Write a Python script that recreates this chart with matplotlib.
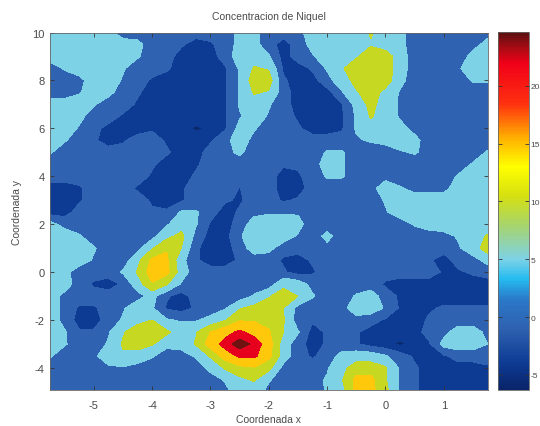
import numpy as np
import matplotlib
matplotlib.use('Agg')
import matplotlib.pyplot as plt
from matplotlib.cm import ScalarMappable
from matplotlib.colors import LinearSegmentedColormap, Normalize

plt.rcParams['font.family'] = ['Liberation Sans', 'DejaVu Sans']
plt.rcParams['axes.unicode_minus'] = False

##################
## data

x_nodes = [-5.75, -5.5, -5.25, -5, -4.75, -4.5, -4.25, -4, -3.75, -3.5, -3.25, -3, -2.75, -2.5, -2.25, -2,
           -1.75, -1.5, -1.25, -1, -0.75, -0.5, -0.25, 0, 0.25, 0.5, 0.75, 1, 1.25, 1.5, 1.75]
y_nodes = [10, 9.5, 9, 8.5, 8, 7.5, 7, 6.5, 6, 5.5, 5, 4.5, 4, 3.5, 3, 2.5, 2, 1.5, 1, 0.5, 0,
           -0.5, -1, -1.5, -2, -2.5, -3, -3.5, -4, -4.5, -5]

concentration = [
    [5, 5, 5, 5, 4, 0, 0, 0, 0, 0, 0, 0, 0, 4, 4, 0, 0, 1, 5, 5, 5, 5, 8, 5, 4, 0, 0, 0, 0, 0, 1],
    [5, 5, 5, 5, 5, 5, 4, 0, 0, -1, -3, -2, 0, 4, 4, 0, -3, 0, 4, 5, 5, 5, 7, 5, 4, 0, 0, 0, 0, 1, 4],
    [5, 5, 5, 5, 5, 5, 3, 0, 0, -3, -3, -3, 0, 5, 5, 3, -3, 0, 2, 5, 5, 7, 10, 10, 5, 0, 0, 0, 0, 4, 5],
    [0, 3, 5, 5, 5, 3, 0, 0, -1, -3, -3, -3, -2, 3, 8, 7, -2, -3, -1, 3, 7, 10, 10, 10, 5, 0, 0, 0, 2, 5, 5],
    [0, 0, 1, 5, 5, 2, 0, -2, -3, -3, -3, -3, -2, 3, 10, 10, -1, -3, -3, 1, 5, 9, 10, 10, 4, 0, 0, 0, 0, 3, 3],
    [0, 0, 2, 5, 4, 0, -1, -3, -3, -3, -3, -3, -2, 3, 8, 7, 0, -3, -4, -3, 2, 7, 10, 6, 2, 0, 0, 0, 0, 0, 0],
    [5, 5, 5, 3, 0, 0, -2, -3, -3, -3, -3, -3, -2, 3, 5, 3, 0, -3, -4, -4, -2, 4, 9, 5, 2, 0, 0, 0, 0, 0, 0],
    [5, 5, 4, 0, 0, -2, -3, -3, -3, -3, -3, -3, -2, 2, 5, 2, 0, -2, -4, -4, -2, 3, 8, 5, 2, 0, 0, 0, 0, 0, 0],
    [5, 5, 2, -0.5, -2.5, -3, -3, -2, -3, -3, -5, -4, -2, 4, 3, 0, 0, -1, -3, -3, -2, 3, 5, 5, 4, 1, 0, 0, 0, 0, 0],
    [5, 3, 0, -1, -3, -2, 0, 0, -2, -3, -3, -2, 1, 5, 1, 0, 0, 0, 0, 0, 0, 2, 3, 4, 5, 4, 0, 0, 0, 0, 0],
    [3, 0, 0, 0, 0, 0, 0, 0, -1, -3, -3, 0, 1, 3.5, 0, 0, 0, 0, 0, 3, 3, 0, 0, 0, 2, 3, 1, 0, 0, 0, 3],
    [0, 0, 0, 0, 0, 0, 0, -1, -3, -3, -2, 0, 0, 0, 0, 0, -1, -1, 0, 5, 3, 0, 0, 0, 0, 0, 2, 1, 0, 3, 5],
    [0, 0, 0, 0, 0, 0, 0, -2, -3, -3, -1, 0, 0, 0, 0, 0, -3, -2, 0, 3, 3, 0, 1, 1, 0, 0, 0, 0, 3, 5, 5],
    [-3, -3, -2, 0, 0, 0, -2, -3, -3, -2, 0, 0, 0, -1.6, 0, 0, -3, -3, 0, 0, 0, 0, 1, 5, 3, 1, 1, 1, 5, 5, 5],
    [-3, -3, -2, 0, 0, 0, 0, -2, -3, -2, 0, 0, -1, -2, 0, 0, -2, -1, 0, 0, 0, 0, 0, 3, 5, 5, 5, 5, 5, 5, 5],
    [-3, -3, 0, 0, 0, 0, 0, -1, -1, 3, 3, 0, -3, -1, 1, 2, 2, 2, 0, 0, 0, 0, 0, 2, 5, 5, 5, 5, 5, 5, 5],
    [4, 1, 0, 0, 0, 0, 0, 0, 2, 5, 3, -2, -3, 0, 5, 5, 5, 4, 0, 0, 0, 0, 0, 0, 0, 3, 5, 5, 5, 5, 5],
    [5, 5, 3, 0, 0, 0, 0, 1, 6, 9, 1, -3, -3, 2, 5, 5, 5, 2, 0, 4, 0, 0, 0, 0, 0, 0, 0, 1, 3, 5, 8],
    [5, 5, 5, 3, 0, 0, 1, 7, 12, 7.5, -1, -3, -3, 0, 5, 4, 0, 0, 0, 1, 0, 0, 0, 0, 0, 0, 0, 0, 2, 5, 10],
    [5, 5, 5, 2, 0, 0, 6, 13.5, 13.5, 4, -1, -3, -3, -1, 0, 0, -2, -3, -1, 0, 0, 0, 0, 0, 0, 0, -1, -3, 0, 1, 4],
    [5, 4, 0, 0, 0, 3, 8, 15, 14, 5, 0, 0, 0, 0, 0, 0, -1, -3, -2, 0, 0, 0, 0, 0, 0, 0, 0, -2, -2, -1, 0],
    [5, 5, 0, -2, -3, -1, 5, 12, 8, 2, 0, 0, 0, 0, 0, 0, 6, 5, 1, 0, 0, 0, 0, -2, -3, -3, -3, -3, -3, -3, -3],
    [5, 1, 0, 0, 0, 0, 1, 4, -1, -3, 0, 0, 0, 0, 3, 7, 10, 7.5, 3, 0, 0, 3, 5, 0, -2, -3, -3, -3, -3, -3, -3],
    [5, 1, -2, -2, 0, 2, 5, 3, -2, -3, -1, 0, 2, 7, 9, 10, 7.5, 1, 0, 0, 1, 5, 5, 2, -2, -3, -2, -1, -1, -1, -1],
    [5, 1, -3, -3, 0, 3, 6, 7.5, 3, 2, 2, 4, 7, 12, 12, 11, 8, 0, -1, 0, 0, 1, 0, -2, -3, -3, -1, 0, 0, 0, 0],
    [5, 3, -1, -1, 2, 7, 10, 10, 8.5, 5, 7, 12.5, 16, 19, 16, 13, 7.5, 3, -3, -1, 0, -1, -3, -3, -3, -3, 0, 1, 5, 5, 1],
    [5, 3, 0, 0, 3, 8, 10, 8, 4, 4, 8, 15, 20, 24, 21, 15, 5, 0, -3, -1, 0, -1, -3, -4, -5, -4, -2, 4, 5, 5, 2.5],
    [3, 0, 0, 2, 4, 7, 5, 3, 0, 1, 3, 8, 15, 19, 19, 14, 5, 0, -2, 0, 4, 5, 5, 3, 0, -2, -3, -2, 0, 0, 0],
    [0, 0, 0, 1, 2, 2, 1, 0, 0, 0, 0, 4, 8, 11, 12, 9, 1, 0, 0, 2, 6, 10, 10, 8, 2, -1, -3, -3, -3, -3, -2],
    [0, 0, 0, 0, 0, 0, 0, 0, 0, 0, 0, 0, 3, 6, 8, 3, 0, 0, 1, 3, 7, 14, 14, 8, 2, -1, -3, -3, -3, -3, -3],
    [0, 0, 0, 0, 0, 0, 0, 0, 0, 0, 0, 0, 1, 5, 5, 1, 0, 0, 0, 3, 5, 14, 14, 9, 2, -1, -3, -3, -3, -3, -3],
]

levels = [-6.3, -4.5, -1.5, 2.5, 7.5, 12.5, 18, 22, 24.65]
band_colors = ['#0b2a6c', '#0d3b94', '#2f62b0', '#7dd2e6', '#c6d822', '#ffc80a', '#e6001e', '#6e1212']

bar_values = [-6.3, -4, -1, 1.5, 3.3, 5, 8, 10.5, 13, 15.5, 18.5, 22, 23.5, 24.65]
bar_colors = ['#0a2468', '#0d3b94', '#2f62b0', '#2a78c8', '#25bcf0', '#7dd2e6', '#a8d46a', '#d6e010',
              '#ffff00', '#ffb000', '#ff3010', '#f00018', '#a00c14', '#5a1010']
bar_ticks = [-5, 0, 5, 10, 15, 20]

x_ticks = [-5, -4, -3, -2, -1, 0, 1]
y_ticks = [-4, -2, 0, 2, 4, 6, 8, 10]

#####################
## figure

width, height = 540, 427
text_color = '#4a4a4a'
fig = plt.figure(figsize=(width / 100, height / 100), dpi=100)
ax = fig.add_axes([50 / width, 1 - 391 / height, 437.5 / width, 357.5 / height])
ax.contourf(x_nodes, y_nodes, np.array(concentration), levels=levels, colors=band_colors)
ax.set_xlim(-5.75, 1.75)
ax.set_ylim(-4.92, 10)
ax.set_xticks(x_ticks)
ax.set_yticks(y_ticks)
ax.tick_params(direction='in', top=True, right=True, length=3, width=0.6, color='#333333',
               labelsize=8, labelcolor=text_color)
ax.tick_params(axis='x', pad=7)
ax.tick_params(axis='y', pad=4)
ax.set_xlabel('Coordenada x', fontsize=7.5, color=text_color, labelpad=3)
ax.set_ylabel('Coordenada y', fontsize=7.5, color=text_color, labelpad=7)
ax.set_title('Concentracion de Niquel', fontsize=7.5, color=text_color, pad=10)
for spine in ax.spines.values():
    spine.set_linewidth(0.6)
    spine.set_color('#666666')

cax = fig.add_axes([498 / width, 1 - 391 / height, 31 / width, 358 / height])
stops = [(v - bar_values[0]) / (bar_values[-1] - bar_values[0]) for v in bar_values]
bar_cmap = LinearSegmentedColormap.from_list('bar', list(zip(stops, bar_colors)))
sm = ScalarMappable(norm=Normalize(bar_values[0], bar_values[-1]), cmap=bar_cmap)
cb = fig.colorbar(sm, cax=cax, ticks=bar_ticks)
cb.ax.tick_params(direction='in', left=True, right=True, length=3, width=0.6, color='#333333',
                  labelsize=6, labelcolor=text_color, pad=1)
cb.outline.set_linewidth(0.6)
cb.outline.set_edgecolor('#666666')

plt.savefig('out.png', dpi=100)
plt.close()
